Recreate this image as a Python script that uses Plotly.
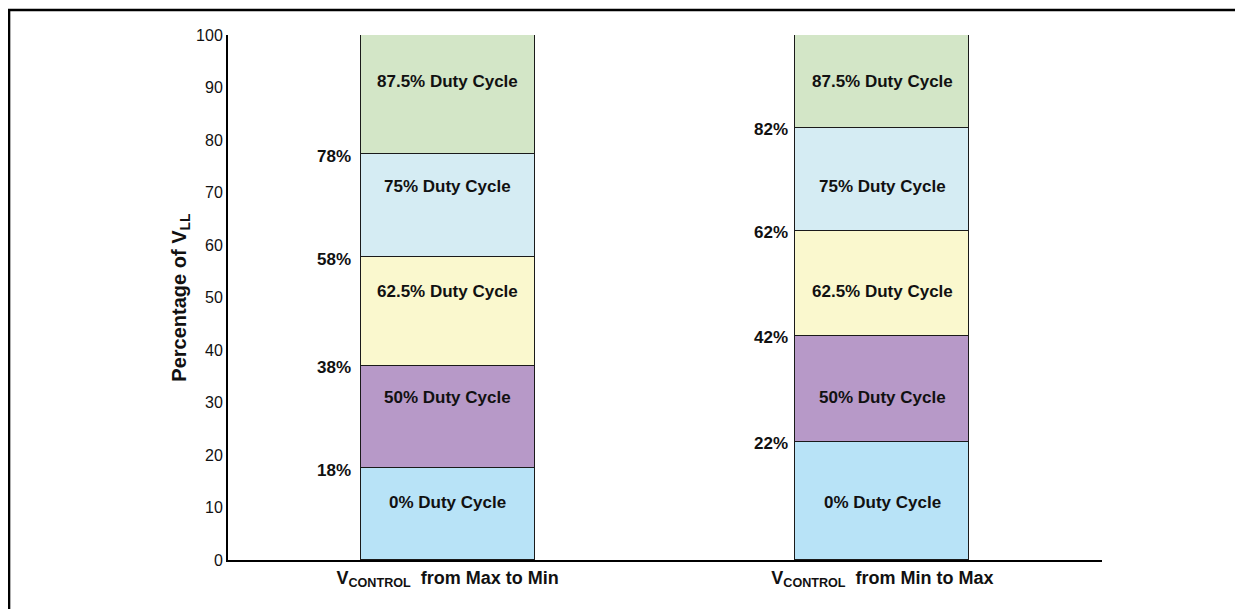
import plotly.graph_objects as go

categories = ["V<sub>CONTROL</sub>  from Max to Min", "V<sub>CONTROL</sub>  from Min to Max"]
segment_names = ["0% Duty Cycle", "50% Duty Cycle", "62.5% Duty Cycle", "75% Duty Cycle", "87.5% Duty Cycle"]
# heights of stacked segments (percentage of V_LL) for each column
seg_max_to_min = [17.5, 19.5, 20.7, 19.6, 22.7]
seg_min_to_max = [22.5, 20.2, 20.0, 19.6, 17.7]
segment_colors = ["#b8e3f7", "#b799c8", "#faf8ce", "#d5ecf3", "#d3e6c7"]
# label y positions for segment names
label_y = [11.0, 31.0, 51.2, 71.2, 91.2]
# threshold labels
thr_labels_1 = ["18%", "38%", "58%", "78%"]
thr_y_1 = [17.5, 37.0, 57.7, 77.3]
thr_labels_2 = ["22%", "42%", "62%", "82%"]
thr_y_2 = [22.5, 42.7, 62.7, 82.3]
yticks = [0, 10, 20, 30, 40, 50, 60, 70, 80, 90, 100]

FONT = "Liberation Sans, Arial, sans-serif"
xpos = [0, 1]
bar_w = 0.4

fig = go.Figure()
for i, name in enumerate(segment_names):
    fig.add_trace(go.Bar(
        x=xpos, y=[seg_max_to_min[i], seg_min_to_max[i]], name=name,
        width=bar_w, marker=dict(color=segment_colors[i], line=dict(color="#1a1a1a", width=1)),
        hoverinfo="skip", showlegend=False,
    ))

annotations = []
for xi in xpos:
    for name, yv in zip(segment_names, label_y):
        annotations.append(dict(x=xi, y=yv, xref="x", yref="y", text="<b>" + name + "</b>",
                                showarrow=False, font=dict(family=FONT, size=17, color="#111")))
for lab, yv in zip(thr_labels_1, thr_y_1):
    annotations.append(dict(x=-bar_w / 2, y=yv, xref="x", yref="y", text="<b>" + lab + "</b>",
                            xanchor="right", yanchor="middle", xshift=-8, yshift=-2,
                            showarrow=False, font=dict(family=FONT, size=17, color="#111")))
for lab, yv in zip(thr_labels_2, thr_y_2):
    annotations.append(dict(x=1 - bar_w / 2, y=yv, xref="x", yref="y", text="<b>" + lab + "</b>",
                            xanchor="right", yanchor="middle", xshift=-5, yshift=-2,
                            showarrow=False, font=dict(family=FONT, size=17, color="#111")))

fig.update_layout(
    barmode="stack",
    width=1235, height=601,
    margin=dict(l=220, r=141, t=27, b=49, autoexpand=False),
    paper_bgcolor="white", plot_bgcolor="white",
    font=dict(family=FONT, size=16, color="#111"),
    annotations=annotations,
    shapes=[dict(type="rect", xref="paper", yref="paper", x0=-0.2505, x1=1.3, y0=-0.3, y1=1.0476,
                 line=dict(color="black", width=2.5), fillcolor="rgba(0,0,0,0)", layer="above")],
    xaxis=dict(range=[-0.505, 1.505], tickvals=xpos, ticktext=["<b>" + c + "</b>" for c in categories],
               tickfont=dict(family=FONT, size=18, color="#111"), showline=True, linecolor="black",
               linewidth=2, showgrid=False, zeroline=False, ticks="", ticklen=0),
    yaxis=dict(range=[0, 100], tickvals=yticks, showline=True, linecolor="black", linewidth=2,
               showgrid=False, zeroline=False, ticks="", tickfont=dict(family=FONT, size=16, color="#111"),
               title=dict(text="<b>Percentage of V<sub>LL</sub></b>", font=dict(family=FONT, size=20, color="#111"),
                          standoff=4)),
    bargap=0,
)

fig.write_html("out.html")
